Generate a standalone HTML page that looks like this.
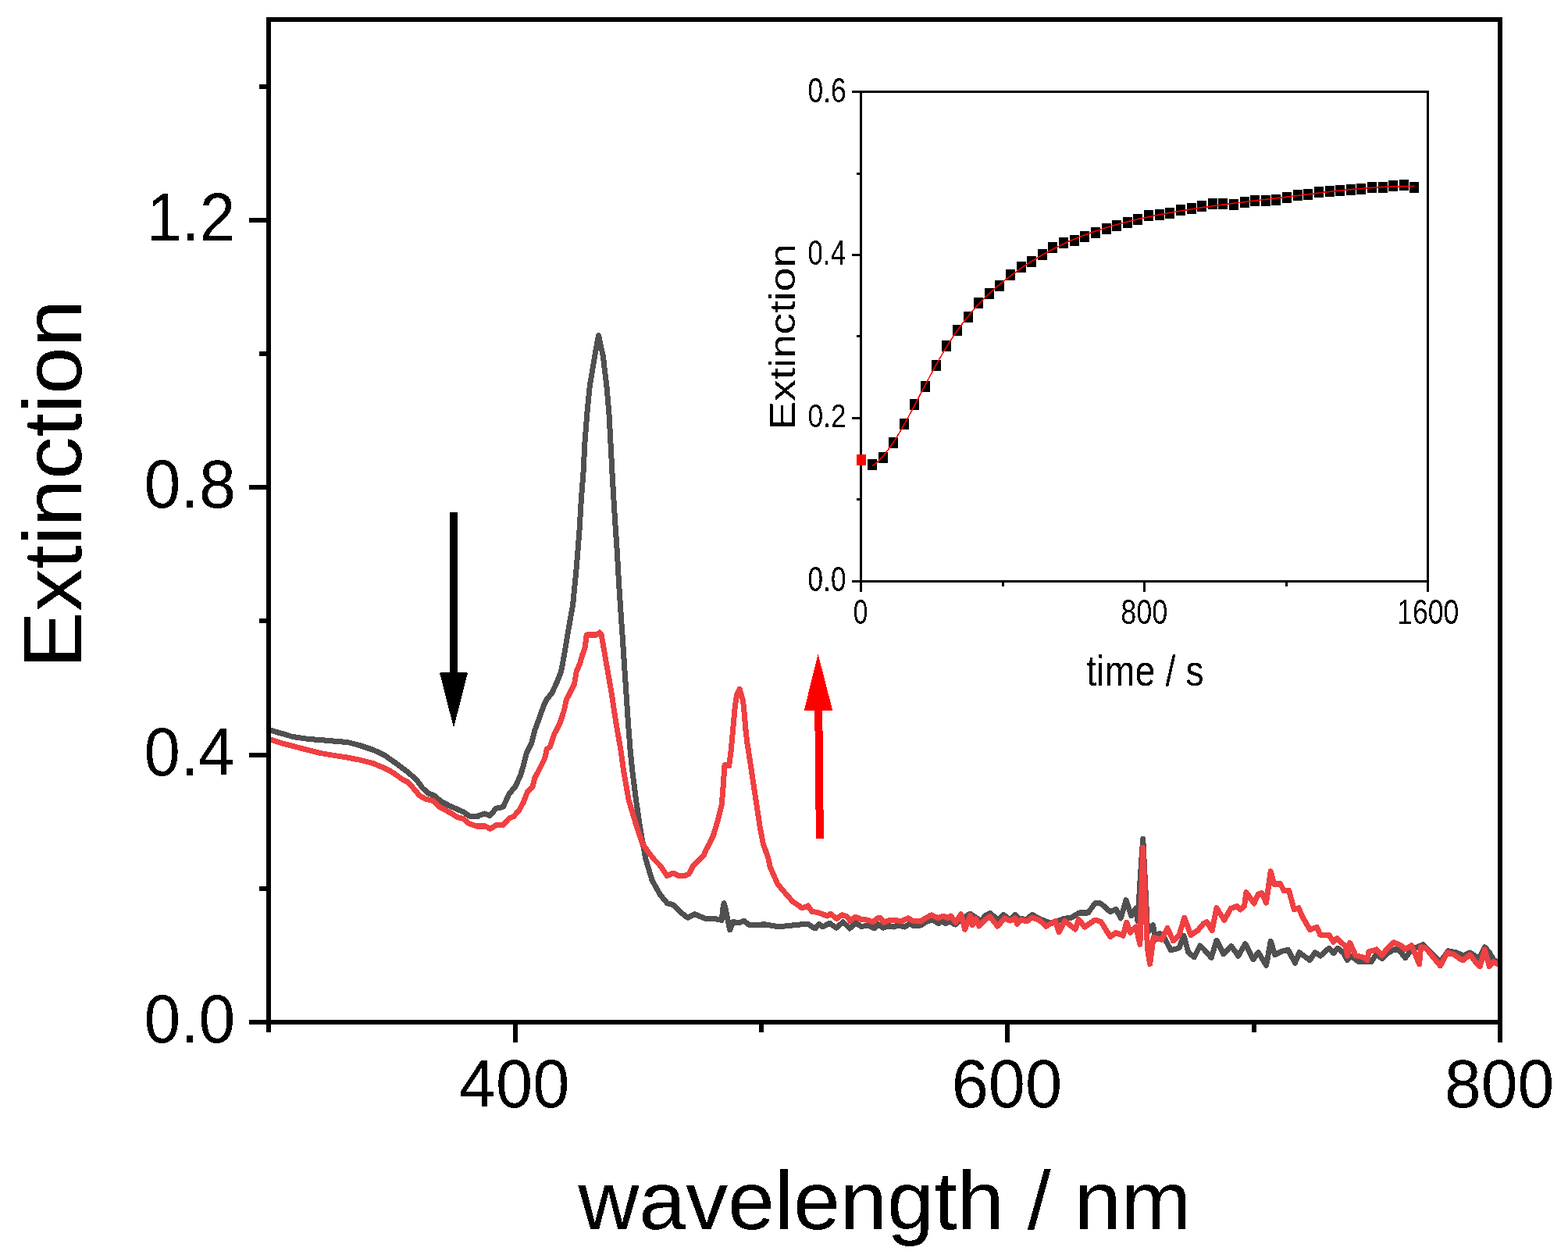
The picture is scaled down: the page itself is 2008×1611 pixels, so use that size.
<!DOCTYPE html>
<html><head><meta charset="utf-8"><title>Extinction spectra</title>
<style>html,body{margin:0;padding:0;background:#fff;}svg{display:block;}</style></head>
<body><svg width="2008" height="1611" viewBox="0 0 2008 1611">
<rect x="0" y="0" width="2008" height="1611" fill="#fff"/>
<defs><filter id="bin" filterUnits="userSpaceOnUse" x="0" y="0" width="2008" height="1611" color-interpolation-filters="sRGB"><feComponentTransfer><feFuncA type="discrete" tableValues="0 1"/></feComponentTransfer></filter></defs>
<g filter="url(#bin)">
<polyline points="344.2,934.4 353.9,937.5 360.9,939.3 374.9,943.5 395.8,946.6 409.7,947.6 423.7,948.7 444.6,950.4 458.5,953.9 469.0,957.4 479.4,960.9 492.4,967.2 507.3,977.6 522.3,988.8 533.5,998.6 541.0,1009.0 548.4,1015.7 555.9,1018.7 565.6,1026.9 574.6,1031.4 586.5,1036.7 593.3,1039.6 600.7,1044.9 611.9,1045.6 613.0,1044.5 620.9,1041.9 627.4,1044.5 635.2,1035.3 644.3,1033.4 652.1,1016.4 660.0,1007.3 666.5,993.0 670.4,979.9 674.3,964.3 680.8,951.3 684.7,935.6 690.0,921.3 696.5,903.0 700.4,895.2 706.9,887.4 713.4,873.0 718.6,860.0 722.4,839.7 727.0,811.7 733.6,774.5 737.3,737.2 740.4,700.0 742.0,679.3 744.2,642.1 747.0,604.8 748.9,567.6 751.7,530.4 755.4,493.1 758.6,474.6 761.7,456.0 764.5,440.0 766.6,429.5 768.6,440.0 772.4,456.0 774.4,474.6 776.8,493.1 780.0,530.4 782.0,567.6 783.9,604.8 786.1,642.1 788.4,679.3 789.9,700.0 793.1,755.9 796.9,811.7 800.6,867.6 804.3,923.5 807.1,960.7 809.8,987.2 814.5,1024.5 820.0,1061.7 826.6,1099.0 834.9,1126.9 845.2,1145.5 854.5,1156.7 861.9,1158.6 871.2,1167.9 880.6,1175.3 889.9,1170.7 902.9,1176.3 913.1,1176.1 924.2,1178.3 926.3,1160.0 927.2,1156.5 928.3,1160.0 930.2,1169.4 934.7,1190.9 939.1,1180.5 946.6,1182.0 952.5,1179.0 958.5,1184.2 966.2,1184.6 979.3,1183.7 997.4,1186.8 1019.8,1184.6 1034.7,1183.1 1040.0,1187.0 1044.2,1189.0 1049.1,1183.5 1053.9,1187.0 1062.3,1182.1 1070.7,1188.3 1079.7,1180.7 1088.1,1189.0 1095.8,1182.1 1102.7,1186.3 1113.2,1185.6 1120.2,1189.0 1124.4,1183.5 1130.6,1188.3 1139.0,1185.6 1144.6,1187.0 1150.2,1184.9 1158.5,1187.0 1164.8,1182.8 1170.4,1185.6 1179.4,1184.9 1185.5,1180.6 1194.5,1177.8 1201.5,1182.6 1206.4,1179.9 1211.3,1182.6 1216.8,1179.9 1223.1,1184.0 1229.4,1178.5 1235.7,1174.3 1241.9,1170.1 1248.9,1174.3 1255.9,1179.9 1262.2,1172.2 1267.7,1169.4 1274.0,1174.3 1277.5,1178.5 1285.2,1171.5 1292.8,1177.8 1299.8,1171.5 1304.0,1175.7 1314.4,1177.8 1321.7,1171.3 1332.2,1177.3 1347.1,1182.5 1362.1,1176.5 1372.5,1175.0 1381.5,1169.1 1393.4,1169.1 1402.4,1156.4 1409.9,1157.1 1421.8,1167.6 1429.3,1164.6 1435.3,1175.8 1442.0,1152.6 1448.7,1172.8 1454.7,1163.1 1456.9,1179.5 1460.5,1120.0 1463.7,1074.2 1466.5,1130.0 1469.6,1194.5 1476.4,1184.8 1480.1,1203.4 1485.3,1195.2 1490.5,1200.4 1499.5,1216.9 1510.0,1213.9 1516.0,1198.2 1521.9,1219.9 1529.4,1225.8 1536.9,1210.9 1542.8,1216.9 1551.2,1226.4 1557.9,1204.0 1566.8,1221.9 1576.9,1211.8 1585.8,1224.1 1594.7,1208.5 1604.8,1228.6 1611.5,1219.7 1621.6,1236.4 1627.2,1205.1 1632.7,1223.0 1640.6,1218.5 1649.5,1216.3 1658.4,1233.1 1664.0,1219.7 1677.4,1229.7 1684.1,1219.7 1690.8,1224.1 1702.0,1214.1 1707.6,1220.8 1713.2,1214.1 1721.0,1220.8 1725.5,1229.7 1729.9,1224.1 1740.0,1231.7 1755.9,1231.7 1762.9,1221.8 1769.8,1227.7 1776.8,1220.8 1785.8,1215.8 1791.8,1216.8 1799.7,1226.7 1807.7,1215.8 1822.6,1209.8 1834.6,1221.8 1844.5,1231.7 1854.5,1217.8 1864.5,1219.8 1874.4,1223.7 1882.4,1219.8 1889.4,1224.7 1893.3,1228.7 1901.3,1212.8 1907.3,1219.8 1913.3,1229.7 1920.2,1232.7" fill="none" stroke="#505050" stroke-width="7" stroke-linejoin="round" stroke-linecap="butt"/>
<polyline points="344.2,946.3 360.9,951.8 374.9,955.3 395.8,960.9 409.7,964.4 430.6,967.9 444.6,970.0 458.5,972.7 472.5,976.2 479.4,978.0 481.2,979.1 492.4,983.6 503.6,989.6 514.8,997.8 522.3,1001.5 529.8,1009.8 537.2,1018.7 544.7,1023.2 554.4,1025.4 563.4,1033.7 574.6,1039.6 585.8,1046.4 593.3,1048.6 600.0,1054.2 610.4,1058.1 622.2,1058.1 627.4,1061.4 636.5,1056.2 644.3,1056.8 652.1,1047.7 657.4,1045.8 665.2,1037.3 670.4,1026.9 675.6,1013.8 682.1,1007.3 684.7,996.9 691.3,983.8 697.8,970.8 700.4,959.1 704.3,956.5 709.5,940.8 717.3,925.2 722.5,909.5 725.1,896.5 730.4,886.1 735.6,875.6 738.2,860.0 742.9,849.0 745.7,838.7 749.0,830.0 751.2,813.0 760.0,812.7 764.0,813.0 768.0,810.0 770.0,812.0 776.4,849.0 782.9,886.2 788.5,923.5 795.0,960.7 798.6,987.2 805.1,1024.5 816.3,1061.7 822.8,1080.4 831.9,1093.4 838.6,1101.6 844.6,1107.6 848.3,1112.8 854.3,1121.7 861.7,1118.0 868.4,1121.3 876.6,1121.7 882.5,1118.7 887.0,1109.8 891.5,1105.3 895.9,1100.8 901.2,1095.6 904.1,1088.2 907.9,1081.5 913.1,1071.0 918.7,1052.4 924.3,1030.1 926.2,1005.9 928.0,979.8 933.6,980.7 936.4,959.3 937.6,945.0 939.5,925.0 941.3,905.0 943.5,890.0 947.2,882.3 951.5,897.2 953.4,915.9 954.9,934.5 957.1,953.1 959.6,968.6 962.4,987.2 965.2,1005.9 968.0,1024.5 970.8,1043.1 973.6,1061.7 977.3,1080.4 983.8,1099.0 986.1,1109.9 995.9,1132.3 1004.8,1142.8 1015.3,1154.7 1027.2,1162.9 1034.7,1159.9 1040.0,1167.4 1047.0,1168.5 1053.9,1170.9 1059.5,1173.0 1063.7,1170.2 1071.4,1176.5 1078.3,1171.6 1084.6,1173.7 1088.8,1179.3 1095.1,1174.1 1102.7,1177.2 1109.7,1177.9 1118.1,1180.7 1123.7,1175.8 1127.8,1175.8 1132.0,1181.4 1139.7,1177.9 1148.1,1178.6 1154.3,1180.0 1162.7,1175.8 1169.0,1179.3 1179.4,1180.0 1182.0,1177.8 1192.4,1171.8 1201.5,1175.7 1207.8,1172.9 1214.0,1175.7 1217.5,1172.9 1223.8,1181.3 1230.8,1170.8 1235.7,1190.3 1242.6,1172.2 1245.4,1184.7 1249.6,1176.4 1253.8,1186.1 1260.8,1178.5 1267.7,1173.6 1272.6,1179.9 1277.5,1186.1 1286.6,1175.7 1293.5,1179.2 1299.8,1175.7 1302.6,1183.3 1307.5,1177.8 1315.0,1179.9 1321.7,1175.0 1330.7,1178.0 1339.6,1186.3 1351.6,1179.5 1356.1,1193.7 1363.6,1179.5 1377.0,1190.0 1381.5,1177.3 1389.0,1187.0 1402.4,1178.0 1409.9,1180.3 1421.8,1199.7 1429.3,1194.5 1438.3,1198.2 1442.7,1181.0 1447.2,1194.5 1454.7,1187.0 1459.9,1209.4 1461.5,1150.0 1463.7,1085.4 1466.5,1150.0 1469.5,1215.0 1472.6,1234.8 1477.1,1200.4 1487.6,1203.4 1495.0,1188.5 1502.5,1204.9 1510.0,1197.5 1516.7,1175.0 1524.9,1197.5 1533.9,1191.5 1541.3,1182.5 1545.6,1180.6 1552.3,1191.7 1557.9,1162.7 1567.9,1178.3 1575.8,1163.8 1583.6,1160.4 1588.0,1164.9 1593.6,1160.4 1595.9,1142.6 1605.9,1157.1 1611.5,1144.8 1616.0,1143.7 1621.6,1156.0 1627.2,1115.8 1631.6,1132.5 1639.4,1131.4 1643.9,1140.3 1650.6,1140.3 1657.3,1164.9 1662.9,1162.7 1668.5,1175.0 1677.4,1190.6 1686.4,1187.3 1690.8,1197.3 1702.0,1197.3 1707.6,1206.3 1712.1,1201.8 1723.2,1211.8 1725.5,1224.1 1728.8,1207.4 1736.0,1223.7 1744.9,1225.7 1750.9,1229.7 1752.9,1218.8 1762.9,1215.8 1769.8,1223.7 1774.8,1216.8 1784.8,1206.8 1793.7,1210.8 1799.7,1215.8 1807.7,1210.8 1817.6,1234.7 1819.6,1212.8 1825.6,1213.8 1834.6,1224.7 1844.5,1236.7 1853.5,1219.8 1862.5,1222.7 1869.4,1227.7 1873.4,1229.7 1882.4,1222.7 1889.4,1231.7 1895.3,1237.7 1901.3,1215.8 1907.3,1237.7 1912.3,1231.7 1920.2,1235.7" fill="none" stroke="#ef4042" stroke-width="7" stroke-linejoin="round" stroke-linecap="butt"/>
<path d="M319 1309.0H344 M319 967.0H344 M319 624.0H344 M319 282.0H344 M332 1138.0H344 M332 795.0H344 M332 453.0H344 M332 111.0H344 M660.0 1309V1335 M1290.0 1309V1335 M1921.0 1309V1335 M344.0 1309V1322 M975.0 1309V1322 M1606.0 1309V1322" stroke="#000" stroke-width="6" fill="none"/>
<rect x="344" y="25" width="1577" height="1284" fill="none" stroke="#000" stroke-width="6"/>
<rect x="576" y="656" width="10" height="206" fill="#000"/>
<polygon points="563,861.5 599,861.5 581,932" fill="#000"/>
<path d="M1043.2 909.2H1053.3V936.6H1043.2Z M1044 936.6H1053.9V1037.2H1044Z M1044.9 1037.2H1054.9V1074.1H1044.9Z" fill="#f00"/>
<polygon points="1029.8,909.7 1066.2,909.7 1047.6,837.6" fill="#f00"/>
<path d="M1091 744.5H1102.5 M1091 535.5H1102.5 M1091 326.5H1102.5 M1091 117.5H1102.5 M1097 639.5H1102.5 M1097 430.5H1102.5 M1097 222.5H1102.5 M1102.5 744.5V758 M1465.5 744.5V758 M1828.5 744.5V758 M1284.5 744.5V751 M1647.5 744.5V751" stroke="#000" stroke-width="3" fill="none"/>
<rect x="1102.5" y="117.5" width="726" height="627" fill="none" stroke="#000" stroke-width="3"/>
<path d="M1111 588h12v14h-12z M1125 579h12v14h-12z M1138 560h12v14h-12z M1152 536h12v14h-12z M1165 511h12v14h-12z M1179 488h12v14h-12z M1193 461h12v14h-12z M1206 436h12v14h-12z M1220 416h12v14h-12z M1234 399h12v14h-12z M1247 381h12v14h-12z M1261 369h12v14h-12z M1274 359h12v14h-12z M1288 345h12v14h-12z M1302 335h12v14h-12z M1315 328h12v14h-12z M1329 319h12v14h-12z M1342 310h12v14h-12z M1356 304h12v14h-12z M1370 301h12v14h-12z M1383 296h12v14h-12z M1397 291h12v14h-12z M1411 286h12v14h-12z M1424 282h12v14h-12z M1438 278h12v14h-12z M1451 274h12v14h-12z M1465 269h12v14h-12z M1479 268h12v14h-12z M1492 266h12v14h-12z M1506 262h12v14h-12z M1520 260h12v14h-12z M1533 257h12v14h-12z M1547 254h12v14h-12z M1560 254h12v14h-12z M1574 255h12v14h-12z M1588 252h12v14h-12z M1601 250h12v14h-12z M1615 250h12v14h-12z M1628 249h12v14h-12z M1642 246h12v14h-12z M1656 243h12v14h-12z M1669 242h12v14h-12z M1683 239h12v14h-12z M1697 238h12v14h-12z M1710 237h12v14h-12z M1724 236h12v14h-12z M1737 235h12v14h-12z M1751 233h12v14h-12z M1765 233h12v14h-12z M1778 231h12v14h-12z M1792 230h12v14h-12z M1805 233h12v14h-12z" fill="#000"/>
<rect x="1096.9" y="582" width="12" height="13.7" fill="#f00"/>
<polyline points="1117.0,596.5 1119.9,594.6 1122.8,592.2 1125.7,589.6 1128.6,586.6 1131.5,583.4 1134.4,579.9 1137.3,576.1 1140.3,572.0 1143.2,567.8 1146.1,563.4 1149.0,558.7 1151.9,553.9 1154.8,549.0 1157.7,543.9 1160.6,538.7 1163.5,533.4 1166.4,528.0 1169.3,522.6 1172.2,517.1 1175.1,511.6 1178.0,506.0 1180.9,500.5 1183.8,495.0 1186.8,489.5 1189.7,484.0 1192.6,478.6 1195.5,473.2 1198.4,467.9 1201.3,462.7 1204.2,457.6 1207.1,452.6 1210.0,447.7 1212.9,443.0 1215.8,438.3 1218.7,433.8 1221.6,429.5 1224.5,425.3 1227.4,421.2 1230.3,417.2 1233.3,413.3 1236.2,409.5 1239.1,405.9 1242.0,402.4 1244.9,398.9 1247.8,395.6 1250.7,392.4 1253.6,389.2 1256.5,386.2 1259.4,383.2 1262.3,380.3 1265.2,377.5 1268.1,374.8 1271.0,372.1 1273.9,369.5 1276.8,367.0 1279.8,364.6 1282.7,362.1 1285.6,359.8 1288.5,357.5 1291.4,355.3 1294.3,353.1 1297.2,350.9 1300.1,348.8 1303.0,346.7 1305.9,344.6 1308.8,342.6 1311.7,340.7 1314.6,338.8 1317.5,336.9 1320.4,335.0 1323.3,333.2 1326.3,331.4 1329.2,329.7 1332.1,328.0 1335.0,326.3 1337.9,324.7 1340.8,323.1 1343.7,321.5 1346.6,320.0 1349.5,318.5 1352.4,317.0 1355.3,315.6 1358.2,314.2 1361.1,312.8 1364.0,311.4 1366.9,310.1 1369.8,308.8 1372.8,307.5 1375.7,306.3 1378.6,305.1 1381.5,303.9 1384.4,302.8 1387.3,301.6 1390.2,300.5 1393.1,299.4 1396.0,298.4 1398.9,297.3 1401.8,296.3 1404.7,295.3 1407.6,294.4 1410.5,293.4 1413.4,292.5 1416.3,291.6 1419.3,290.7 1422.2,289.9 1425.1,289.0 1428.0,288.2 1430.9,287.4 1433.8,286.6 1436.7,285.8 1439.6,285.0 1442.5,284.3 1445.4,283.6 1448.3,282.9 1451.2,282.2 1454.1,281.5 1457.0,280.8 1459.9,280.1 1462.8,279.5 1465.8,278.9 1468.7,278.2 1471.6,277.6 1474.5,277.0 1477.4,276.4 1480.3,275.8 1483.2,275.3 1486.1,274.7 1489.0,274.1 1491.9,273.6 1494.8,273.1 1497.7,272.5 1500.6,272.0 1503.5,271.5 1506.4,271.0 1509.3,270.5 1512.3,270.0 1515.2,269.5 1518.1,269.0 1521.0,268.6 1523.9,268.1 1526.8,267.7 1529.7,267.2 1532.6,266.8 1535.5,266.3 1538.4,265.9 1541.3,265.5 1544.2,265.1 1547.1,264.7 1550.0,264.2 1552.9,263.8 1555.8,263.4 1558.8,263.1 1561.7,262.7 1564.6,262.3 1567.5,261.9 1570.4,261.5 1573.3,261.1 1576.2,260.8 1579.1,260.4 1582.0,260.0 1584.9,259.7 1587.8,259.3 1590.7,259.0 1593.6,258.6 1596.5,258.3 1599.4,257.9 1602.3,257.6 1605.3,257.2 1608.2,256.9 1611.1,256.5 1614.0,256.2 1616.9,255.8 1619.8,255.5 1622.7,255.1 1625.6,254.8 1628.5,254.4 1631.4,254.1 1634.3,253.7 1637.2,253.4 1640.1,253.1 1643.0,252.7 1645.9,252.4 1648.8,252.0 1651.8,251.6 1654.7,251.3 1657.6,250.9 1660.5,250.6 1663.4,250.2 1666.3,249.9 1669.2,249.5 1672.1,249.1 1675.0,248.8 1677.9,248.4 1680.8,248.1 1683.7,247.7 1686.6,247.4 1689.5,247.0 1692.4,246.7 1695.3,246.3 1698.3,246.0 1701.2,245.7 1704.1,245.3 1707.0,245.0 1709.9,244.7 1712.8,244.4 1715.7,244.0 1718.6,243.7 1721.5,243.4 1724.4,243.1 1727.3,242.8 1730.2,242.6 1733.1,242.3 1736.0,242.0 1738.9,241.8 1741.8,241.5 1744.8,241.3 1747.7,241.0 1750.6,240.8 1753.5,240.6 1756.4,240.4 1759.3,240.2 1762.2,240.0 1765.1,239.8 1768.0,239.6 1770.9,239.5 1773.8,239.3 1776.7,239.2 1779.6,239.0 1782.5,238.9 1785.4,238.8 1788.3,238.7 1791.3,238.7 1794.2,238.6 1797.1,238.6 1800.0,238.5 1802.9,238.5 1805.8,238.5 1808.7,238.5 1811.6,238.5" fill="none" stroke="#f00" stroke-width="1.6"/>
<g font-family="'Liberation Sans', Arial, sans-serif" fill="#000"><text transform="matrix(0.40830 0 0 0.43679 187.68 308.00)" font-size="200">1.2</text><text transform="matrix(0.42184 0 0 0.43521 184.53 649.93)" font-size="200">0.8</text><text transform="matrix(0.41705 0 0 0.43662 184.56 993.03)" font-size="200">0.4</text><text transform="matrix(0.42023 0 0 0.43521 184.54 1334.83)" font-size="200">0.0</text><text transform="matrix(0.42430 0 0 0.43451 587.78 1417.73)" font-size="200">400</text><text transform="matrix(0.42373 0 0 0.43803 1218.66 1418.12)" font-size="200">600</text><text transform="matrix(0.41956 0 0 0.43732 1850.12 1417.93)" font-size="200">800</text><text transform="matrix(0.53909 0 0 0.53102 740.40 1574.10)" font-size="200">wavelength / nm</text><text transform="matrix(0 -0.54391 0.52925 0 103.74 855.50)" font-size="200">Extinction</text><text transform="matrix(0.17663 0 0 0.21761 1034.49 131.16)" font-size="200">0.6</text><text transform="matrix(0.17424 0 0 0.21831 1034.61 338.56)" font-size="200">0.4</text><text transform="matrix(0.17692 0 0 0.21620 1034.58 547.37)" font-size="200">0.2</text><text transform="matrix(0.17557 0 0 0.21761 1034.60 757.16)" font-size="200">0.0</text><text transform="matrix(0.16737 0 0 0.21901 1092.66 799.16)" font-size="200">0</text><text transform="matrix(0.18013 0 0 0.21901 1435.28 798.56)" font-size="200">800</text><text transform="matrix(0.17773 0 0 0.21761 1789.13 799.06)" font-size="200">1600</text><text transform="matrix(0.23360 0 0 0.27823 1391.20 878.34)" font-size="200">time / s</text><text transform="matrix(0 -0.27494 0.23333 0 1017.73 550.50)" font-size="200">Extinction</text></g>
</g>
</svg></body></html>
